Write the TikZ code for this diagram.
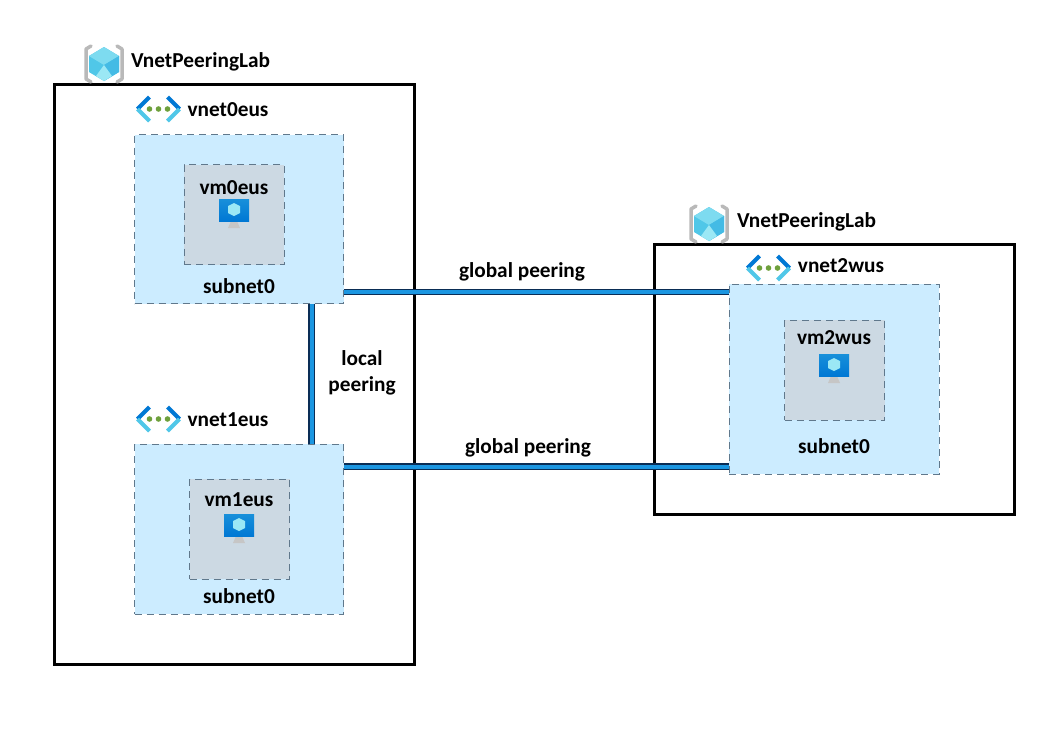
\documentclass[tikz,border=0pt]{standalone}
\usepackage{fontspec}
\setmainfont{Carlito}
\usetikzlibrary{positioning}
\definecolor{lblue}{RGB}{204,236,255}
\definecolor{lgray}{RGB}{204,217,227}
\definecolor{dashgray}{RGB}{96,120,140}
\definecolor{peerblue}{RGB}{27,150,225}
\definecolor{peernavy}{RGB}{10,45,85}
\definecolor{azdark}{RGB}{0,120,212}
\definecolor{azlight}{RGB}{80,199,232}
\definecolor{azpale}{RGB}{155,232,245}
\definecolor{azgreen}{RGB}{110,160,60}
\tikzset{
    every node/.style={outer sep=0pt},
    group/.style={
        rectangle, draw=black, line width=3pt, fill=white, anchor=north west
    },
    vnetbox/.style={
        rectangle, draw=dashgray, dash pattern=on 7pt off 5pt, line width=0.8pt,
        fill=lblue, anchor=north west, minimum width=209pt
    },
    vmbox/.style={
        rectangle, draw=dashgray, dash pattern=on 7pt off 5pt, line width=0.8pt,
        fill=lgray, anchor=north west, minimum width=100pt, minimum height=100pt
    },
    lab/.style={
        font=\fontsize{21.3}{26}\selectfont\bfseries, inner sep=0pt, align=center
    },
    connector/.style={
        draw=peernavy, line width=1.2pt, double=peerblue, double distance=4pt
    },
    rgicon/.pic={
        \fill[azlight] (0,-17) -- (15,-8) -- (15,8) -- (0,17) -- (-15,8) -- (-15,-8) -- cycle;
        \fill[azpale!60!azlight] (0,-17) -- (15,-8) -- (0,1) -- (-15,-8) -- cycle;
        \fill[azlight!85!azdark] (0,1) -- (15,-8) -- (15,8) -- (0,17) -- cycle;
        \fill[azpale] (0,1) -- (-8,12) -- (0,17) -- (8,12) -- cycle;
        \draw[gray!55, line width=3.5pt, line cap=round, line join=round] (-13,-18) -- (-18,-15) -- (-18,15) -- (-13,18);
        \draw[gray!55, line width=3.5pt, line cap=round, line join=round] (13,-18) -- (18,-15) -- (18,15) -- (13,18);
    },
    vneticon/.pic={
        \draw[azdark, line width=4pt] (-9,-12) -- (-21,0);
        \draw[azlight, line width=4pt] (-21,0) -- (-9,12);
        \draw[azdark, line width=4pt] (9,-12) -- (21,0);
        \draw[azlight, line width=4pt] (21,0) -- (9,12);
        \foreach \dx in {-9,0,9}
            \fill[azgreen] (\dx,0) circle (2.8);
    },
    vmicon/.pic={
        \fill[gray!45] (-3,9) -- (3,9) -- (6,16) -- (-6,16) -- cycle;
        \fill[top color=azdark!70!azlight, bottom color=azdark] (-15,-13) rectangle (15,9);
        \fill[azpale] (0,-9) -- (6,-6) -- (6,1) -- (0,4) -- (-6,1) -- (-6,-6) -- cycle;
    }
}

\begin{document}
\begin{tikzpicture}[x=1pt,y=-1pt]
    \useasboundingbox (0,0) rectangle (1058,732);
    \fill[white] (0,0) rectangle (1058,732);
    % outer groups
    \node[group, minimum width=360pt, minimum height=580pt] (rg0) at (54,84) {};
    \node[group, minimum width=360pt, minimum height=270pt] (rg1) at (654,244) {};
    % virtual networks
    \node[vnetbox, minimum height=169pt] (vnet0) at (134.5,134.5) {};
    \node[vnetbox, minimum height=170pt] (vnet1) at (134.5,444) {};
    \node[vnetbox, minimum width=210pt, minimum height=190pt] (vnet2) at (729,284) {};
    % machines
    \node[vmbox] (vm0) at (184,164.5) {};
    \node[vmbox] (vm1) at (189.5,479) {};
    \node[vmbox] (vm2) at (784.5,320) {};
    % peerings
    \coordinate (p0) at (344,292);
    \coordinate (p1) at (729,292);
    \coordinate (p2) at (344,466.5);
    \coordinate (p3) at (729,466.5);
    \coordinate (p4) at (311.5,304);
    \coordinate (p5) at (311.5,444);
    \draw[connector] (p0) -- (p1);
    \draw[connector] (p2) -- (p3);
    \draw[connector] (p4) -- (p5);
    \node[lab] (gp0) at (522,272) {global peering};
    \node[lab] (gp1) at (528,448) {global peering};
    \node[lab] (lp) at (362,373) {local\\peering};
    % icons
    \pic at (104,64) {rgicon};
    \pic at (709,224) {rgicon};
    \pic at (158.5,109) {vneticon};
    \pic at (158.5,419) {vneticon};
    \pic at (768.5,268) {vneticon};
    \pic at (234,212) {vmicon};
    \pic at (239,527) {vmicon};
    \pic at (834,367) {vmicon};
    % labels
    \node[lab, anchor=west] (rgl0) at (131,62) {VnetPeeringLab};
    \node[lab, anchor=west] (rgl1) at (737,222) {VnetPeeringLab};
    \node[lab] (nl0) at (228,110) {vnet0eus};
    \node[lab] (nl1) at (228,420) {vnet1eus};
    \node[lab] (nl2) at (841,266) {vnet2wus};
    \node[lab] (ml0) at (234,188) {vm0eus};
    \node[lab] (ml1) at (239,500) {vm1eus};
    \node[lab] (ml2) at (834,338) {vm2wus};
    \node[lab] (sl0) at (239,286) {subnet0};
    \node[lab] (sl1) at (239,596) {subnet0};
    \node[lab] (sl2) at (834,446) {subnet0};
\end{tikzpicture}
\end{document}
